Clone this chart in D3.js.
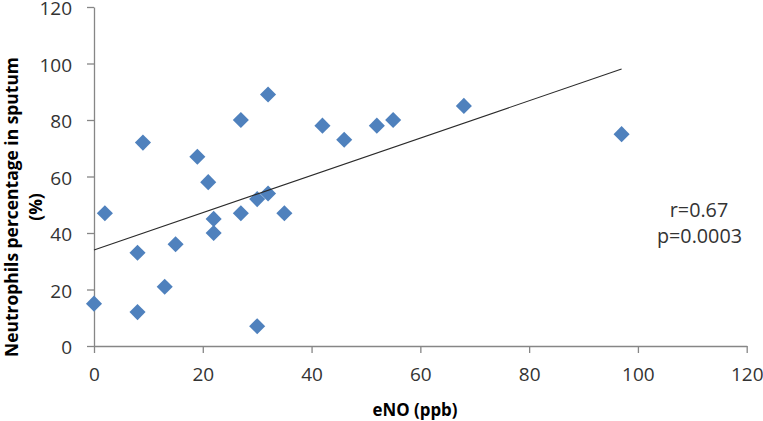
<!DOCTYPE html>
<html>
<head>
<meta charset="utf-8">
<script src="https://cdn.jsdelivr.net/npm/d3@7/dist/d3.min.js"></script>
<style>
  html, body { margin: 0; padding: 0; background: #fff; }
  svg { display: block; }
</style>
</head>
<body>
<svg id="chart" width="763" height="421"></svg>
<script>
// ---- data ----
const eNO        = [0, 2, 8, 8, 9, 13, 15, 19, 21, 22, 22, 27, 27, 30, 30, 32, 32, 35, 42, 46, 52, 55, 68, 97];
const neutrophil = [15, 47, 33, 12, 72, 21, 36, 67, 58, 45, 40, 80, 47, 7, 52, 89, 54, 47, 78, 73, 78, 80, 85, 75];
const xTicks = [0, 20, 40, 60, 80, 100, 120];
const yTicks = [0, 20, 40, 60, 80, 100, 120];
const trendIntercept = 34;
const trendSlope = 0.66;
const trendRange = [0, 97];
const xTitle = "eNO (ppb)";
const yTitleLines = ["Neutrophils percentage in sputum", "(%)"];
const annotation = ["r=0.67", "p=0.0003"];

// ---- layout ----
const svg = d3.select("#chart");
const x = d3.scaleLinear().domain([0, 120]).range([94, 746.7]);
const y = d3.scaleLinear().domain([0, 120]).range([346, 7]);
const axisColor = "#868686";
const textColor = "#333333";
const font = "'Open Sans', 'Noto Sans', sans-serif";

function fitWidth(sel, target) {
  const w = sel.node().getComputedTextLength();
  const fs = parseFloat(sel.attr("font-size"));
  sel.attr("font-size", (fs * target / w).toFixed(2));
}

// axes
const xAxis = svg.append("g")
  .attr("transform", `translate(0,${y(0)})`)
  .call(d3.axisBottom(x).tickValues(xTicks).tickSize(7).tickPadding(15).tickSizeOuter(0));
const yAxis = svg.append("g")
  .attr("transform", `translate(${x(0)},0)`)
  .call(d3.axisLeft(y).tickValues(yTicks).tickSize(7).tickPadding(15).tickSizeOuter(0));
[xAxis, yAxis].forEach(g => {
  g.selectAll("path.domain").attr("stroke", axisColor).attr("stroke-width", 1.3);
  g.selectAll(".tick line").attr("stroke", axisColor).attr("stroke-width", 1.3);
  g.selectAll(".tick text").attr("fill", textColor).attr("font-family", font).attr("font-size", 19);
});
yAxis.selectAll(".tick text").attr("dy", "0.42em");

// points
const pts = eNO.map((v, i) => ({ x: v, y: neutrophil[i] }));
const diamond = d3.symbol().type(d3.symbolDiamond2).size(165);
svg.append("g").selectAll("path")
  .data(pts).join("path")
  .attr("d", diamond)
  .attr("transform", d => `translate(${x(d.x)},${y(d.y)})`)
  .attr("fill", "#4F81BD");

// trend line
const trendData = trendRange.map(v => ({ x: v, y: trendIntercept + trendSlope * v }));
svg.append("path")
  .datum(trendData)
  .attr("d", d3.line().x(d => x(d.x)).y(d => y(d.y)))
  .attr("fill", "none")
  .attr("stroke", "#2b2b2b")
  .attr("stroke-width", 1.1);

// x title
const xt = svg.append("text")
  .attr("x", 415).attr("y", 416)
  .attr("text-anchor", "middle")
  .attr("font-family", font).attr("font-weight", "bold").attr("font-size", 19)
  .attr("fill", "#000")
  .text(xTitle);
fitWidth(xt, 85);

// y title
const yt1 = svg.append("text")
  .attr("transform", "translate(18,207) rotate(-90)")
  .attr("text-anchor", "middle")
  .attr("font-family", font).attr("font-weight", "bold").attr("font-size", 19)
  .attr("fill", "#000")
  .text(yTitleLines[0]);
fitWidth(yt1, 300);
svg.append("text")
  .attr("transform", "translate(42,207) rotate(-90)")
  .attr("text-anchor", "middle")
  .attr("font-family", font).attr("font-weight", "bold").attr("font-size", yt1.attr("font-size"))
  .attr("fill", "#000")
  .text(yTitleLines[1]);

// annotation
const a1 = svg.append("text")
  .attr("x", 699).attr("y", 217).attr("text-anchor", "middle")
  .attr("font-family", font).attr("font-size", 18).attr("fill", textColor)
  .text(annotation[0]);
const a2 = svg.append("text")
  .attr("x", 699.5).attr("y", 243).attr("text-anchor", "middle")
  .attr("font-family", font).attr("font-size", 18).attr("fill", textColor)
  .text(annotation[1]);
fitWidth(a2, 85);
a1.attr("font-size", a2.attr("font-size"));
</script>
</body>
</html>
